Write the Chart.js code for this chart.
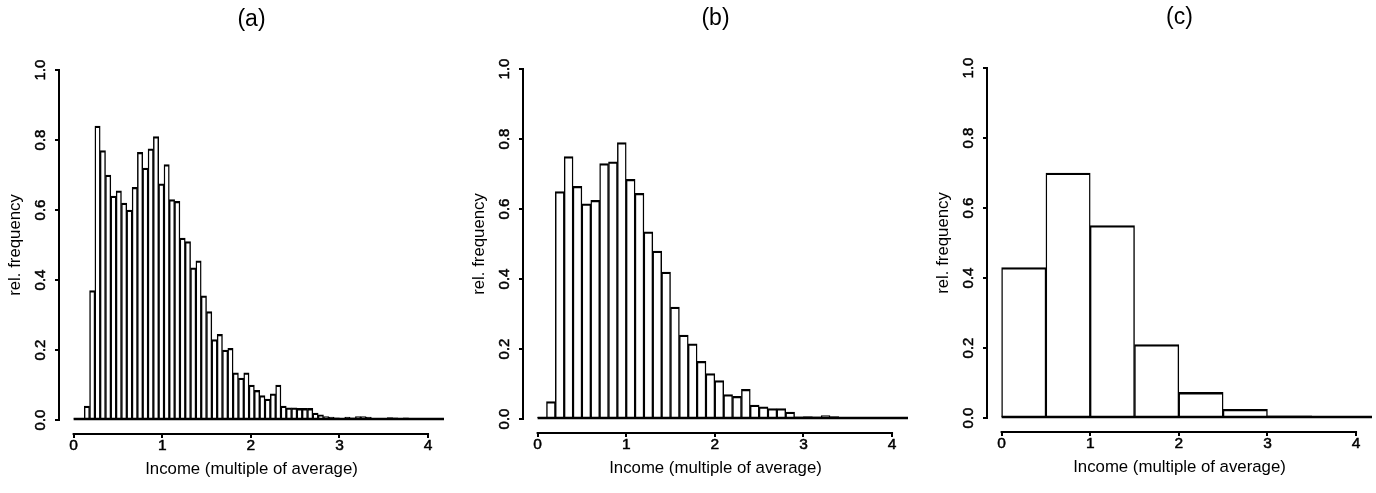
<!DOCTYPE html>
<html>
<head>
<meta charset="utf-8">
<title>Income histograms</title>
<script src="https://cdn.jsdelivr.net/npm/chart.js@4.4.1/dist/chart.umd.min.js"></script>
<style>
  html, body { margin: 0; padding: 0; background: #fff; }
  body { width: 1376px; height: 493px; position: relative; overflow: hidden; }
  .panel { position: absolute; width: 443px; height: 493px; }
</style>
</head>
<body>
<div class="panel" style="left:0.5px; top:0px"><canvas id="chart-a"></canvas></div>
<div class="panel" style="left:464.85px; top:-1px"><canvas id="chart-b"></canvas></div>
<div class="panel" style="left:929.2px; top:-2px"><canvas id="chart-c"></canvas></div>
<script>
// tick labels shared by all three panels
const incomeTicks = [0, 1, 2, 3, 4];
const freqTicks = [0, 0.2, 0.4, 0.6, 0.8, 1.0];

// (a) fine bins, width 0.06, starting at 0
const binWidthA = 0.06;
const freqA = [
    0.003, 0.005, 0.04, 0.37, 0.84, 0.77, 0.70, 0.64, 0.655, 0.62,
    0.60, 0.665, 0.765, 0.72, 0.775, 0.81, 0.675, 0.73, 0.63, 0.625,
    0.52, 0.51, 0.435, 0.455, 0.355, 0.31, 0.23, 0.245, 0.20, 0.205,
    0.135, 0.12, 0.135, 0.10, 0.085, 0.07, 0.06, 0.075, 0.10, 0.04,
    0.035, 0.035, 0.033, 0.033, 0.033, 0.02, 0.015, 0.01, 0.008, 0.006,
    0.005, 0.008, 0.006, 0.01, 0.01, 0.008, 0.004, 0.003, 0.004, 0.007,
    0.006, 0.003, 0.006, 0.003, 0.002, 0.002, 0.001, 0.001, 0.001, 0.001
];

// (b) bins of width 0.1
const binWidthB = 0.1;
const freqB = [
    0.005, 0.05, 0.65, 0.75, 0.665, 0.615, 0.625, 0.73, 0.735, 0.79,
    0.685, 0.645, 0.535, 0.48, 0.42, 0.32, 0.24, 0.215, 0.165, 0.13,
    0.11, 0.07, 0.065, 0.085, 0.04, 0.035, 0.03, 0.03, 0.02, 0.006,
    0.007, 0.006, 0.01, 0.007, 0.003, 0.004, 0.005, 0.003, 0.003, 0.002,
    0.001, 0.001
];

// (c) coarse bins of width 0.5
const binWidthC = 0.5;
const freqC = [0.43, 0.70, 0.55, 0.21, 0.073, 0.025, 0.006, 0.003, 0.002];

const FONT = '"Liberation Sans", Arial, Helvetica, sans-serif';

// R-style axis lines (first to last tick only) plus the common bar baseline
const rAxes = {
    id: 'rAxes',
    afterDraw(chart) {
        const {ctx, chartArea, scales} = chart;
        const x = scales.x, y = scales.y;
        const bars = chart.getDatasetMeta(0).data;
        const first = bars[0], last = bars[bars.length - 1];
        ctx.save();
        ctx.strokeStyle = '#000';
        ctx.lineWidth = 2;
        ctx.lineCap = 'square';
        ctx.beginPath();
        ctx.moveTo(chartArea.left, y.getPixelForValue(freqTicks[0]));
        ctx.lineTo(chartArea.left, y.getPixelForValue(freqTicks[freqTicks.length - 1]));
        ctx.moveTo(x.getPixelForValue(incomeTicks[0]), chartArea.bottom);
        ctx.lineTo(x.getPixelForValue(incomeTicks[incomeTicks.length - 1]), chartArea.bottom);
        ctx.stroke();
        // bottoms of the bars, drawn as one line like R's hist()
        ctx.lineCap = 'butt';
        ctx.lineWidth = 2.4;
        const base = y.getPixelForValue(0) - 1;
        ctx.beginPath();
        ctx.moveTo(first.x - first.width / 2, base);
        ctx.lineTo(Math.min(last.x + last.width / 2, chartArea.right), base);
        ctx.stroke();
        ctx.restore();
    }
};

function makeHistogram(id, label, binWidth, freqs) {
    const points = freqs.map((f, i) => ({ x: (i + 0.5) * binWidth, y: f }));
    return new Chart(document.getElementById(id), {
        type: 'bar',
        data: {
            datasets: [{
                data: points,
                backgroundColor: '#fff',
                borderColor: '#000',
                borderWidth: { top: 2.4, bottom: 0, left: 1.45, right: 1.45 },
                borderSkipped: false,
                barPercentage: 1,
                categoryPercentage: 1,
                clip: 0
            }]
        },
        options: {
            responsive: true,
            maintainAspectRatio: false,
            animation: false,
            events: [],
            layout: { padding: 0 },
            plugins: {
                legend: { display: false },
                tooltip: { enabled: false },
                title: {
                    display: true,
                    text: label,
                    color: '#000',
                    fullSize: false,
                    font: { family: FONT, size: 23, weight: 'normal' },
                    padding: { top: 6.2, bottom: 22.2 }
                }
            },
            scales: {
                x: {
                    type: 'linear',
                    min: -0.165,
                    max: 4.18,
                    offset: false,
                    afterBuildTicks: s => { s.ticks = incomeTicks.map(v => ({ value: v })); },
                    afterFit: s => { s.height = 59; },
                    border: { display: false },
                    grid: { offset: false, drawOnChartArea: false, drawTicks: true, tickLength: 4, color: '#000', lineWidth: 2 },
                    ticks: {
                        color: '#000',
                        padding: 0,
                        autoSkip: false,
                        maxRotation: 0,
                        textStrokeColor: '#000',
                        textStrokeWidth: 0.5,
                        font: { family: FONT, size: 15.5, lineHeight: 1 },
                        callback: v => String(v)
                    },
                    title: {
                        display: true,
                        text: 'Income (multiple of average)',
                        color: '#000',
                        font: { family: FONT, size: 16.8, lineHeight: 1.2 },
                        padding: { top: 0, bottom: 13.1 }
                    }
                },
                y: {
                    type: 'linear',
                    min: -0.04,
                    max: 1.04,
                    afterBuildTicks: s => { s.ticks = freqTicks.map(v => ({ value: v })); },
                    afterFit: s => { s.width = 58; },
                    border: { display: false },
                    grid: { drawOnChartArea: false, drawTicks: true, tickLength: 4, color: '#000', lineWidth: 2 },
                    ticks: {
                        color: '#000',
                        padding: 4.1,
                        autoSkip: false,
                        minRotation: 90,
                        maxRotation: 90,
                        crossAlign: 'center',
                        textStrokeColor: '#000',
                        textStrokeWidth: 0.5,
                        font: { family: FONT, size: 15, lineHeight: 1 },
                        callback: v => v.toFixed(1)
                    },
                    title: {
                        display: true,
                        text: 'rel. frequency',
                        color: '#000',
                        font: { family: FONT, size: 16.8, lineHeight: 1.2 },
                        padding: { top: 4.1, bottom: 0 }
                    }
                }
            }
        },
        plugins: [rAxes]
    });
}

makeHistogram('chart-a', '(a)', binWidthA, freqA);
makeHistogram('chart-b', '(b)', binWidthB, freqB);
makeHistogram('chart-c', '(c)', binWidthC, freqC);
</script>
</body>
</html>
